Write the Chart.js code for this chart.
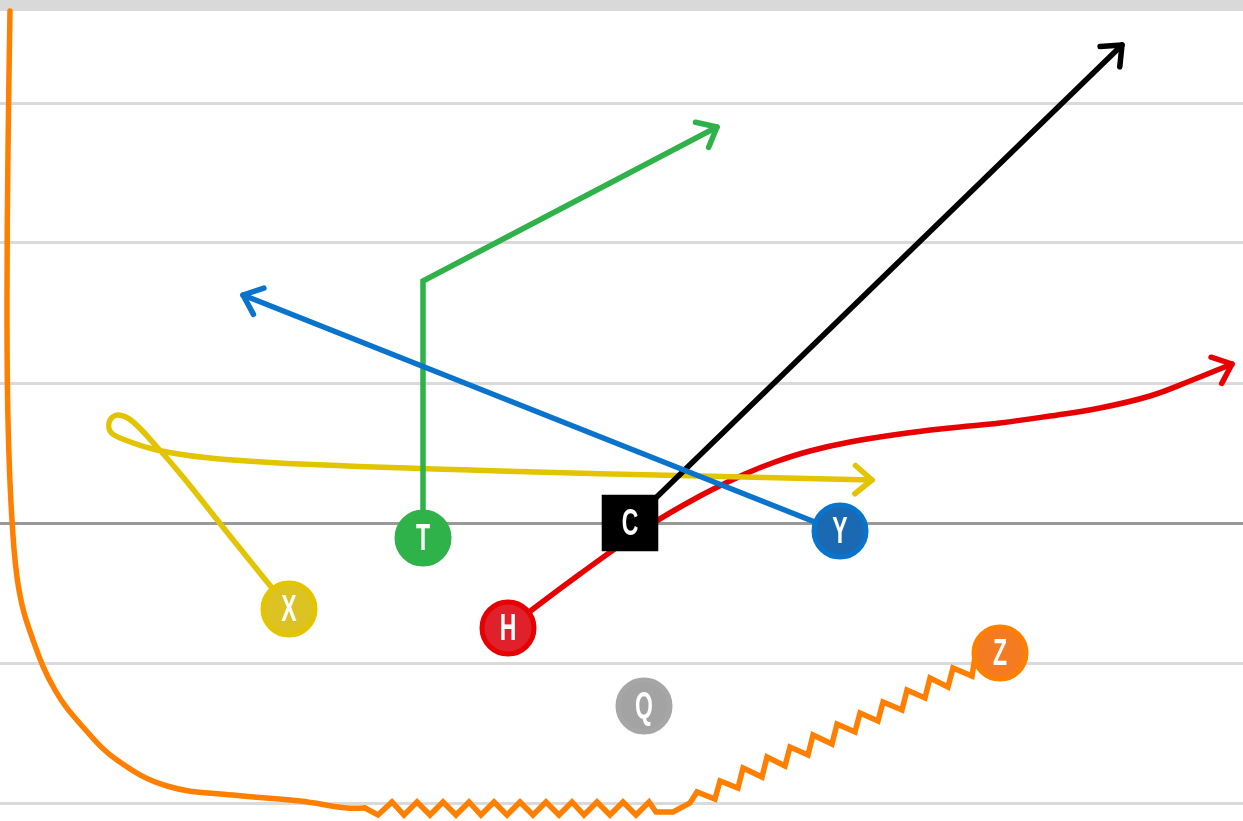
<!DOCTYPE html>
<html>
<head>
<meta charset="utf-8">
<script src="https://cdn.jsdelivr.net/npm/chart.js@4"></script>
<style>
  html, body { margin: 0; padding: 0; background: #fff; }
  #wrap { width: 1243px; height: 821px; position: relative; }
</style>
</head>
<body>
<div id="wrap"><canvas id="play"></canvas></div>
<script>
// field lines (yards), y grows downwards like the picture
const yardLines = [103, 243, 383, 523, 663, 803];
const scrimmage = 523;

// players
const players = ['X', 'T', 'H', 'Y', 'Q', 'Z'];
const playerX = [289, 423, 508, 840, 644, 1000];
const playerY = [609, 538, 628, 531, 706, 653];
const playerFill = ['#dcc222', '#2fb24a', '#e0202a', '#1b69b3', '#a3a3a3', '#f47b22'];
const playerEdge = ['#e2c400', '#2fb24a', '#e60000', '#0a74cc', '#a6a6a6', '#ff7f00'];
const center = { label: 'C', x: 630, y: 523 };

// routes
const blueRoute = [[840, 532], [243, 295]];
const greenRoute = [[423, 538], [423, 281], [717, 127]];
const blackRoute = [[630, 523], [1122, 45]];
const redRoute = [[508, 628], [580, 574], [647, 527], [700, 496], [745, 474], [775, 462],
  [810, 451], [850, 442], [900, 434], [950, 428], [1000, 423], [1050, 416], [1100, 408],
  [1150, 396], [1190, 381], [1232, 364]];
const yellowRoute = [[289, 609], [230, 536], [183, 477], [157, 447], [132, 421], [118, 415],
  [110, 420], [110, 431], [120, 438], [157, 450], [210, 458], [300, 464], [500, 471],
  [700, 476], [872, 480]];
const orangeCurve = [[10, 11], [8, 150], [7, 300], [8, 420], [12, 520], [19, 590], [33, 640],
  [55, 690], [83, 727], [117, 760], [167, 786], [233, 795], [300, 801], [347, 808], [365, 808]];
const orangeZigzag = [[365, 808], [378, 815], [392, 802], [404, 815], [417, 802], [430, 815],
  [443, 802], [456, 815], [469, 802], [481, 815], [494, 802], [507, 815], [520, 802],
  [533, 815], [546, 802], [559, 815], [572, 802], [584, 815], [597, 802], [610, 815],
  [623, 802], [636, 815], [649, 802], [656, 812], [673, 812], [690, 803], [697, 792],
  [715, 799], [720, 781], [738, 788], [743, 768], [762, 777], [767, 757], [785, 766],
  [790, 747], [808, 755], [813, 735], [832, 744], [837, 724], [855, 732], [860, 713],
  [878, 721], [883, 702], [902, 710], [907, 690], [925, 698], [930, 678], [948, 687],
  [953, 668], [972, 676], [975, 657], [1000, 653]];

const pts = arr => arr.map(p => ({ x: p[0], y: p[1] }));

function route(data, color, tension, arrow, join) {
  return {
    type: 'scatter',
    data: pts(data),
    showLine: true,
    borderColor: color,
    borderWidth: 5.5,
    tension: tension,
    borderCapStyle: 'round',
    borderJoinStyle: join || 'round',
    pointRadius: 0,
    arrow: arrow,
    order: 2
  };
}

// arrow heads at the end of routes
const arrowHeads = {
  id: 'arrowHeads',
  afterDatasetsDraw(chart) {
    const ctx = chart.ctx;
    chart.data.datasets.forEach((ds, i) => {
      if (!ds.arrow) return;
      const els = chart.getDatasetMeta(i).data;
      const a = els[els.length - 2], b = els[els.length - 1];
      const ang = Math.atan2(b.y - a.y, b.x - a.x);
      const len = 22, spread = 40 * Math.PI / 180;
      ctx.save();
      ctx.strokeStyle = ds.borderColor;
      ctx.lineWidth = 5.5;
      ctx.lineCap = 'round';
      ctx.lineJoin = 'round';
      ctx.beginPath();
      ctx.moveTo(b.x - len * Math.cos(ang - spread), b.y - len * Math.sin(ang - spread));
      ctx.lineTo(b.x, b.y);
      ctx.lineTo(b.x - len * Math.cos(ang + spread), b.y - len * Math.sin(ang + spread));
      ctx.stroke();
      ctx.restore();
    });
  }
};

// grey band at the top + letters on players
const fieldDeco = {
  id: 'fieldDeco',
  beforeDatasetsDraw(chart) {
    const { ctx, chartArea, scales } = chart;
    const top = scales.y.getPixelForValue(0), bot = scales.y.getPixelForValue(11);
    ctx.save();
    ctx.fillStyle = '#d9d9d9';
    ctx.fillRect(chartArea.left, top, chartArea.right - chartArea.left, bot - top);
    ctx.restore();
  },
  afterDatasetsDraw(chart) {
    const ctx = chart.ctx;
    chart.data.datasets.forEach((ds, i) => {
      if (!ds.labels) return;
      chart.getDatasetMeta(i).data.forEach((el, j) => {
        ctx.save();
        ctx.translate(el.x, el.y + 1);
        ctx.scale(0.64, 1);
        ctx.fillStyle = '#fff';
        ctx.font = 'bold 36px "Liberation Sans", Arial, sans-serif';
        ctx.textAlign = 'center';
        ctx.textBaseline = 'middle';
        ctx.fillText(ds.labels[j], 0, 1);
        ctx.restore();
      });
    });
  }
};

new Chart(document.getElementById('play'), {
  type: 'scatter',
  data: {
    datasets: [
      {
        data: playerX.map((x, i) => ({ x: x, y: playerY[i] })),
        labels: players,
        pointRadius: 26,
        pointBorderWidth: 5,
        pointBackgroundColor: playerFill,
        pointBorderColor: playerEdge,
        order: 0
      },
      {
        data: [{ x: center.x, y: center.y }],
        labels: [center.label],
        pointStyle: 'rect',
        pointRadius: 40,
        pointBorderWidth: 0,
        pointBackgroundColor: '#000',
        pointBorderColor: '#000',
        order: 1
      },
      route(orangeCurve, '#ff7f00', 0.4, false),
      route(orangeZigzag, '#ff7f00', 0, false, 'miter'),
      route(blueRoute, '#0a74cc', 0, true),
      route(greenRoute, '#2fb24a', 0, true, 'miter'),
      route(blackRoute, '#000000', 0, true),
      route(yellowRoute, '#e2c400', 0.35, true),
      route(redRoute, '#e60000', 0.4, true)
    ]
  },
  options: {
    responsive: true,
    maintainAspectRatio: false,
    animation: false,
    events: [],
    layout: { padding: 0, autoPadding: false },
    plugins: { legend: { display: false }, tooltip: { enabled: false } },
    scales: {
      x: { type: 'linear', min: 0, max: 1243, display: false },
      y: {
        type: 'linear', min: 0, max: 821, reverse: true,
        afterBuildTicks: s => { s.ticks = yardLines.map(v => ({ value: v })); },
        afterFit: s => { s.width = 0; },
        ticks: { display: false },
        border: { display: false },
        grid: {
          drawTicks: false,
          lineWidth: 3,
          color: c => c.tick && c.tick.value === scrimmage ? '#999999' : '#dadada'
        }
      }
    }
  },
  plugins: [fieldDeco, arrowHeads]
});
</script>
</body>
</html>
